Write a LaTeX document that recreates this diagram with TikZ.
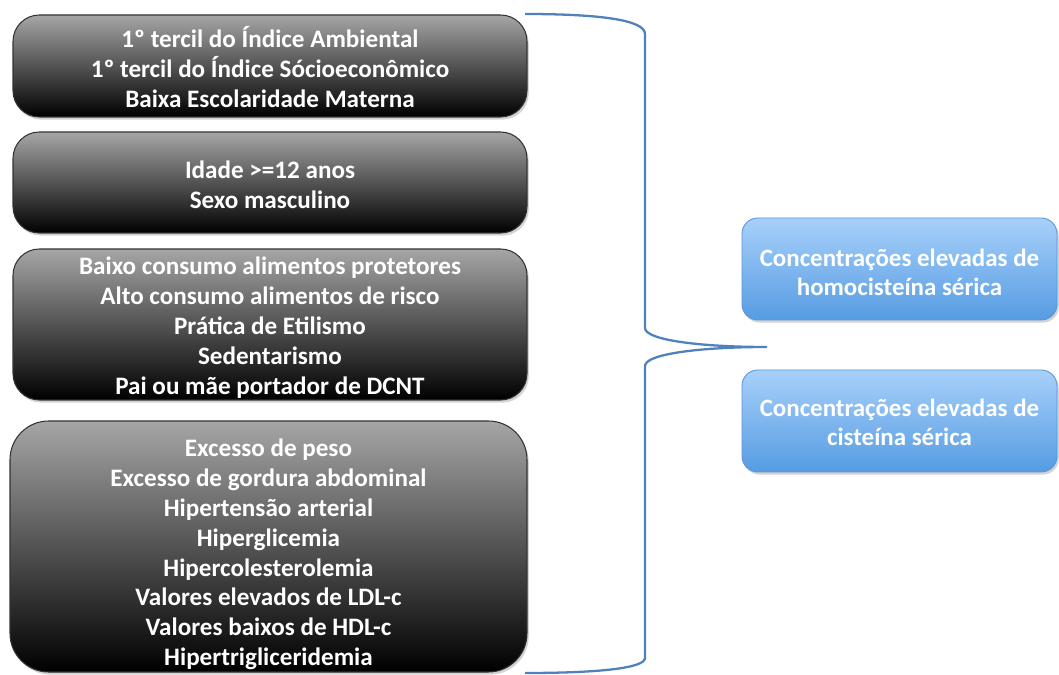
\documentclass[tikz,border=0pt]{standalone}
\usepackage{fontspec}
\setmainfont{Carlito}
\usetikzlibrary{shadows}
\definecolor{bracecol}{RGB}{79,129,189}
\definecolor{bluetop}{RGB}{168,208,250}
\definecolor{bluebot}{RGB}{86,156,226}
\definecolor{blueedge}{RGB}{90,150,215}
\tikzset{
  darkbox/.style={rounded corners=15pt, draw=black!80, line width=0.6pt,
    top color=black!35, bottom color=black, shading angle=0,
    drop shadow={shadow xshift=1pt, shadow yshift=-1.5pt, opacity=0.35},
    inner sep=0pt, minimum width=514*0.02cm},
  darktext/.style={text=white, font=\bfseries\fontsize{14.3}{17}\selectfont, align=center, inner sep=0pt},
  bluebox/.style={rounded corners=9pt, draw=blueedge, line width=0.5pt,
    top color=bluetop, bottom color=bluebot,
    drop shadow={shadow xshift=1pt, shadow yshift=-1.5pt, opacity=0.35},
    inner sep=0pt, minimum width=315*0.02cm, minimum height=102*0.02cm},
  bluetext/.style={text=white, font=\bfseries\fontsize{14.2}{16.5}\selectfont, align=center, inner sep=0pt},
  bracestyle/.style={draw=bracecol, line width=1.3pt}
}
\begin{document}
\begin{tikzpicture}[x=0.02cm, y=-0.02cm]
\useasboundingbox (0,0) rectangle (1059,675);
\node[darkbox, minimum height=102*0.02cm] (b1) at (270,66) {};
\node[darktext] (t1) at ([yshift=-1*0.02cm]b1.center)
  {1º tercil do Índice Ambiental\\1º tercil do Índice Sócioeconômico\\Baixa Escolaridade Materna};
\node[darkbox, minimum height=101*0.02cm] (b2) at (270,182.5) {};
\node[darktext] (t2) at ([yshift=-2*0.02cm]b2.center)
  {Idade >=12 anos\\Sexo masculino};
\node[darkbox, minimum height=151*0.02cm] (b3) at (270,324.5) {};
\node[darktext] (t3) at ([yshift=-3*0.02cm]b3.center)
  {Baixo consumo alimentos protetores\\Alto consumo alimentos de risco\\Prática de Etilismo\\Sedentarismo\\Pai ou mãe portador de DCNT};
\node[darkbox, rounded corners=22pt, minimum width=517*0.02cm, minimum height=251*0.02cm] (b4) at (268.5,546.5) {};
\node[darktext] (t4) at ([yshift=-8*0.02cm]b4.center)
  {Excesso de peso\\Excesso de gordura abdominal\\Hipertensão arterial\\Hiperglicemia\\Hipercolesterolemia\\Valores elevados de LDL-c\\Valores baixos de HDL-c\\Hipertrigliceridemia};
\node[bluebox] (c1) at (899.5,269) {};
\node[bluetext] (u1) at ([yshift=-3*0.02cm]c1.center) {Concentrações elevadas de\\homocisteína sérica};
\node[bluebox] (c2) at (899.5,421) {};
\node[bluetext] (u2) at ([yshift=-1*0.02cm]c2.center) {Concentrações elevadas de\\cisteína sérica};
\coordinate (btop) at (525,14);
\coordinate (bbot) at (525,673);
\coordinate (tip) at (767,347);
\draw[bracestyle] (btop) .. controls (600,14) and (645,20) .. (645,34)
  -- (645,328) .. controls (645,340) and (700,347) .. (tip)
  .. controls (700,347) and (645,354) .. (645,366)
  -- (645,658) .. controls (645,668) and (600,673) .. (bbot);
\end{tikzpicture}
\end{document}
